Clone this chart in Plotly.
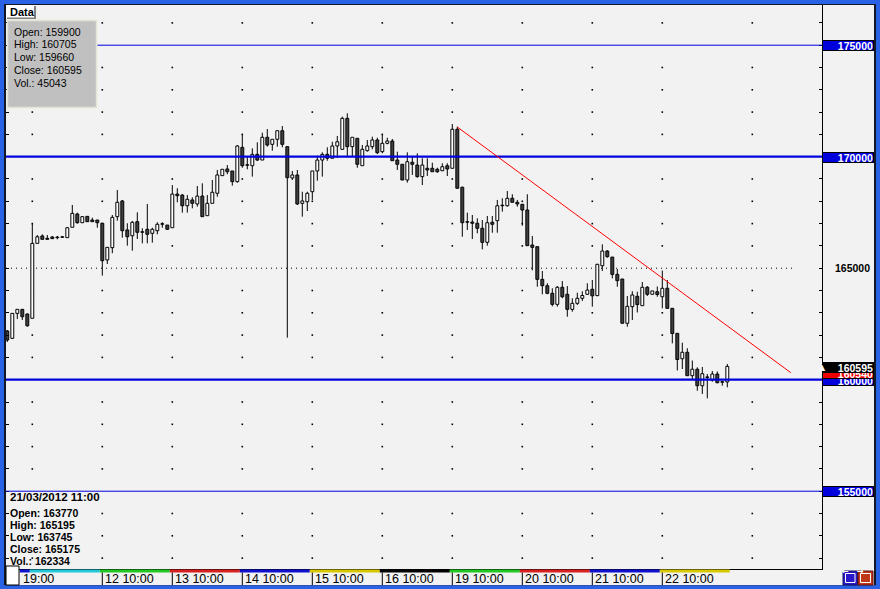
import plotly.graph_objects as go

W, H = 880, 589

# ---------------- data ----------------
opens = [162185, 161855, 162975, 163155, 162945, 162755, 166115, 166445, 166340, 166400,
         166370, 166385, 166370, 166835, 167430, 167040, 167325, 167160, 167160, 167015,
         165370, 165920, 167310, 168015, 166715, 166455, 167085, 166610, 166745, 166565,
         166680, 166970, 166935, 166815, 168325, 168280, 167800, 168060, 167880, 168235,
         167355, 167910, 168360, 169150, 169450, 169360, 168880, 170420, 169615, 169595,
         170105, 169850, 170870, 170555, 170780, 171165, 170450, 169045, 169180, 167910,
         167980, 168430, 169360, 169850, 170105, 169930, 170480, 170330, 171720, 170450,
         170825, 169595, 170270, 170450, 170750, 170225, 170600, 170705, 169850, 169660,
         168955, 169750, 169625, 169105, 169480, 169480, 169435, 169370, 169595, 169480,
         171230, 168630, 167060, 167070, 167015, 166790, 166160, 167060, 167130, 167800,
         167800, 168135, 167955, 167865, 167610, 166040, 165965, 164500, 164215, 163875,
         163380, 164145, 163830, 163155, 163425, 163650, 163830, 164055, 163770, 165110,
         165770, 165500, 164725, 164515, 162530, 163275, 163740, 163320, 164145, 163830,
         163945, 163720, 164100, 163200, 162080, 160940, 161230, 160180, 160470, 159730,
         160100, 159985, 160255, 159885, 159900]
highs = [162230, 162990, 163170, 163170, 162975, 166980, 166490, 166520, 166490, 166445,
         166445, 166445, 166845, 167835, 167490, 167340, 167340, 167265, 167160, 167025,
         165950, 167385, 168505, 168060, 167015, 167115, 167505, 166790, 167880, 166815,
         167060, 167060, 166935, 168730, 168585, 168325, 168280, 168180, 168685, 168805,
         168280, 168955, 169405, 169435, 169625, 169360, 170525, 170975, 170000, 170375,
         170645, 171075, 171240, 170780, 171165, 171375, 170450, 169360, 169405, 168430,
         168430, 169360, 170045, 170195, 170420, 170670, 170930, 171795, 171945, 170870,
         170825, 170525, 170750, 170895, 170850, 171005, 170850, 170795, 170225, 169660,
         170195, 170000, 170150, 169930, 169930, 169730, 169505, 169705, 169705, 171465,
         171345, 168655, 167490, 167385, 167235, 167160, 167340, 167340, 168060, 168135,
         168460, 168315, 168060, 167880, 168315, 166445, 165965, 164875, 164325, 164100,
         164200, 164425, 164200, 163650, 163900, 163965, 164325, 164470, 165195, 166070,
         165815, 165500, 164965, 164515, 163755, 163965, 163945, 164380, 164200, 163980,
         164180, 164895, 164470, 163200, 162080, 161660, 161410, 160860, 160555, 160570,
         160255, 160390, 160370, 159955, 160705]
lows = [161690, 161825, 162720, 162675, 162375, 162755, 166115, 166295, 166295, 166325,
        166295, 166370, 166370, 166835, 166995, 167040, 167085, 167085, 166815, 164665,
        165190, 165670, 167130, 166370, 166010, 165785, 166310, 166115, 166115, 166145,
        166520, 166815, 166715, 166815, 167955, 167490, 167490, 167685, 167760, 167310,
        167355, 167910, 168205, 169150, 169210, 168700, 168835, 169505, 169435, 169105,
        169805, 169850, 170450, 170270, 170450, 170420, 161885, 168955, 167835, 167310,
        167565, 168060, 168925, 169105, 169820, 169930, 169940, 170330, 170030, 170030,
        169505, 169595, 170225, 170330, 170120, 170150, 170555, 169820, 169405, 168955,
        168835, 169180, 169060, 168730, 169135, 169325, 169280, 169360, 169135, 169480,
        168585, 166410, 166715, 166310, 166565, 165845, 166010, 166590, 166590, 167535,
        167760, 167955, 167760, 166905, 166010, 164905, 164170, 163830, 163830, 163290,
        163275, 163650, 162825, 163050, 163350, 163530, 163800, 163275, 163745, 164875,
        165470, 164545, 164170, 162530, 162375, 162675, 163015, 163320, 163755, 163830,
        163720, 163200, 163200, 161630, 160415, 160480, 160180, 160010, 159505, 159360,
        159165, 159910, 159840, 159730, 159660]
closes = [161780, 162975, 163155, 162825, 162420, 166115, 166410, 166295, 166295, 166325,
          166370, 166400, 166815, 167460, 167040, 167310, 167085, 167085, 167040, 165335,
          165935, 167280, 167955, 166680, 166410, 167060, 166610, 166610, 166520, 166745,
          166970, 166970, 166745, 168325, 168250, 167800, 168090, 167910, 168235, 167310,
          167910, 168405, 169180, 169435, 169325, 168880, 170480, 169595, 169615, 170105,
          169850, 170870, 170525, 170780, 171165, 170555, 169060, 169180, 167880, 168015,
          168360, 169360, 169850, 170105, 169930, 170480, 170670, 171720, 170450, 170870,
          169660, 170330, 170480, 170750, 170180, 170600, 170705, 169820, 169660, 168955,
          169775, 169660, 169105, 169625, 169405, 169325, 169325, 169550, 169450, 171230,
          168585, 167040, 167060, 167015, 166790, 166160, 167040, 166970, 167800, 167800,
          168135, 167955, 167880, 167610, 166010, 165935, 164500, 164215, 163875, 163380,
          164145, 163720, 163155, 163425, 163650, 163775, 164020, 163760, 165175, 165770,
          165515, 164725, 164440, 162530, 163290, 163800, 163370, 164145, 163830, 163980,
          163820, 164100, 163200, 162070, 160905, 161230, 160180, 160470, 159730, 160270,
          160110, 160255, 159865, 159890, 160595]
idx = list(range(len(opens)))

data_box_lines = ["Open: 159900", "High: 160705", "Low: 159660", "Close: 160595", "Vol.: 45043"]
info_date = "21/03/2012 11:00"
info_lines = ["Open: 163770", "High: 165195", "Low: 163745", "Close: 165175", "Vol.: 162334"]

level_prices = [175000, 170000, 160000, 155000]
level_widths = [1, 2.2, 2.2, 1]
level_start = [18, -1, -1, -1]
dotted_level = 165000
dotted_end = 157
label_levels = [175000, 170000, 155000]
plain_label_level = 165000

trend_x = [90, 156.7]
trend_y = [171330, 160315]

grid_prices = [p for p in range(152000, 177000, 1000) if p % 5000 != 0]
grid_cols = [5, 19, 33, 47, 61, 75, 89, 103, 117, 131, 149]

time_labels = ["19:00", "12 10:00", "13 10:00", "14 10:00", "15 10:00", "16 10:00",
               "19 10:00", "20 10:00", "21 10:00", "22 10:00"]
time_idx = [2.55, 19, 33, 47, 61, 75, 89, 103, 117, 131]
day_edges = [2.5, 4.5, 18.5, 32.5, 46.5, 60.5, 74.5, 88.5, 102.5, 116.5, 130.5, 144.5]
day_colors = ["#1010D0", "#22C8D8", "#22C822", "#D82020", "#1010D0", "#D8C800",
              "#000000", "#22C822", "#D82020", "#1010D0", "#D8C800"]

current_price = closes[-1]
red_label_price = 160300
red_label_text = "160540"

X_RANGE = [-0.26, 162.94]
Y_RANGE = [151512, 176802]

# ---------------- helpers ----------------
def px(x):
    return x / W

def py(y):
    return 1 - y / H

BLUE = "#0000DD"
BG = "#F2F2F2"
FONT = "Liberation Sans"

fig = go.Figure()

# grid dots (main axes, under candles)
gx, gy = [], []
for c in grid_cols:
    for p in grid_prices:
        gx.append(c)
        gy.append(p)
fig.add_trace(go.Scatter(x=gx, y=gy, mode="markers", xaxis="x", yaxis="y",
                         marker=dict(symbol="square", size=1.6, color="#000000", line=dict(width=0)),
                         hoverinfo="skip", showlegend=False))

# wicks
wx, wy = [], []
for i, o, h, l, c in zip(idx, opens, highs, lows, closes):
    top, bot = max(o, c), min(o, c)
    if h > top:
        wx += [i, i, None]
        wy += [top, h, None]
    if l < bot:
        wx += [i, i, None]
        wy += [l, bot, None]
fig.add_trace(go.Scatter(x=wx, y=wy, mode="lines", xaxis="x2", yaxis="y2",
                         line=dict(color="#000000", width=1),
                         hoverinfo="skip", showlegend=False))

# bodies
fig.add_trace(go.Bar(
    x=idx,
    y=[max(abs(c - o), 25) for o, c in zip(opens, closes)],
    base=[min(o, c) for o, c in zip(opens, closes)],
    width=0.58, xaxis="x2", yaxis="y2",
    marker=dict(color=["#FFFFFF" if c >= o else "#404040" for o, c in zip(opens, closes)],
                line=dict(color="#000000", width=1)),
    hoverinfo="skip", showlegend=False))

shapes = []
annotations = []

# dotted 165000 line
shapes.append(dict(type="line", xref="x", yref="y", x0=X_RANGE[0], x1=dotted_end,
                   y0=dotted_level, y1=dotted_level, layer="below",
                   line=dict(color="#000000", width=1, dash="1px,4px")))

# horizontal level lines
for p, w, s in zip(level_prices, level_widths, level_start):
    shapes.append(dict(type="line", xref="x", yref="y", x0=max(s, X_RANGE[0]), x1=X_RANGE[1],
                       y0=p, y1=p, layer="above", line=dict(color=BLUE, width=w)))

# trendline
shapes.append(dict(type="line", xref="x", yref="y", x0=trend_x[0], x1=trend_x[1],
                   y0=trend_y[0], y1=trend_y[1], layer="above",
                   line=dict(color="#FF0000", width=1)))

# day colour bar and time ticks
for a, b, col in zip(day_edges[:-1], day_edges[1:], day_colors):
    shapes.append(dict(type="rect", xref="x", yref="paper", x0=a, x1=b,
                       y0=py(572.5), y1=py(569.5), fillcolor=col, line=dict(width=0), layer="above"))
for t, xi in zip(time_labels, time_idx):
    if t != "19:00":
        shapes.append(dict(type="line", xref="x", yref="paper", x0=xi, x1=xi,
                           y0=py(585), y1=py(572.5), line=dict(color="#000000", width=1)))
    annotations.append(dict(text=t, xref="x", yref="paper", x=xi + 0.2, y=py(579),
                            xanchor="left", yanchor="middle", showarrow=False,
                            font=dict(family=FONT, size=12.5, color="#000000")))

# window frame
frame_blue = "#2A62E6"
for x0, y0, x1, y1, col in [
    (0, 0, 4, H, frame_blue), (876, 0, W, H, frame_blue),
    (0, 0, W, 4, frame_blue), (0, 586, W, H, frame_blue),
    (4, 4, 6, 586, "#101828"), (4, 4, 876, 5, "#101828"),
    (874, 4, 876, 586, "#101828"), (4, 585, 876, 586, "#3050B0"),
]:
    shapes.append(dict(type="rect", xref="paper", yref="paper", x0=px(x0), x1=px(x1),
                       y0=py(y1), y1=py(y0), fillcolor=col, line=dict(width=0), layer="above"))

# data box
shapes.append(dict(type="rect", xref="paper", yref="paper", x0=px(7.5), x1=px(96.5),
                   y0=py(107.5), y1=py(20.5), fillcolor="#C0C0C0",
                   line=dict(color="#E4E4D4", width=1.5), layer="above"))
shapes.append(dict(type="rect", xref="paper", yref="paper", x0=px(7), x1=px(36),
                   y0=py(19), y1=py(6), fillcolor="#808080", line=dict(width=0), layer="above"))
shapes.append(dict(type="rect", xref="paper", yref="paper", x0=px(6), x1=px(34),
                   y0=py(17.5), y1=py(5), fillcolor="#FFFFFF", line=dict(width=0), layer="above"))
annotations.append(dict(text="<b>Data</b>", xref="paper", yref="paper", x=px(7.5), y=py(11.5),
                        xanchor="left", yanchor="middle", showarrow=False,
                        font=dict(family=FONT, size=11, color="#000000")))
for i, t in enumerate(data_box_lines):
    annotations.append(dict(text=t, xref="paper", yref="paper", x=px(12), y=py(31.7 + 12.8 * i),
                            xanchor="left", yanchor="middle", showarrow=False,
                            font=dict(family=FONT, size=10.5, color="#000000")))

# bottom info
annotations.append(dict(text="<b>" + info_date + "</b>", xref="paper", yref="paper", x=px(8),
                        y=py(497), xanchor="left", yanchor="middle", showarrow=False,
                        font=dict(family=FONT, size=11.5, color="#000000")))
for i, t in enumerate(info_lines):
    annotations.append(dict(text="<b>" + t + "</b>", xref="paper", yref="paper", x=px(8),
                            y=py(513.3 + 12 * i), xanchor="left", yanchor="middle", showarrow=False,
                            font=dict(family=FONT, size=10.5, color="#000000")))

# small white box bottom-left
shapes.append(dict(type="rect", xref="paper", yref="paper", x0=px(6), x1=px(19),
                   y0=py(585), y1=py(566), fillcolor="#FFFFFF",
                   line=dict(color="#000000", width=1), layer="above"))

# right price panel border
shapes.append(dict(type="line", xref="paper", yref="paper", x0=px(822.5), x1=px(822.5),
                   y0=py(570), y1=py(5), line=dict(color="#000000", width=1), layer="above"))

# buttons
shapes.append(dict(type="rect", xref="paper", yref="paper", x0=px(843), x1=px(857.5),
                   y0=py(585), y1=py(571), fillcolor="#2818C8",
                   line=dict(color="#101060", width=1), layer="above"))
shapes.append(dict(type="rect", xref="paper", yref="paper", x0=px(858), x1=px(873),
                   y0=py(585), y1=py(571), fillcolor="#C03818",
                   line=dict(color="#601010", width=1), layer="above"))
for bx0, bx1 in [(845.5, 855), (860.5, 870.5)]:
    shapes.append(dict(type="rect", xref="paper", yref="paper", x0=px(bx0), x1=px(bx1),
                       y0=py(582.5), y1=py(573.5), line=dict(color="#FFFFFF", width=1),
                       layer="above"))
annotations.append(dict(text="<b>←</b>", xref="paper", yref="paper", x=px(850.5), y=py(578),
                        showarrow=False, font=dict(family="DejaVu Sans", size=8, color="#FFFFFF")))
annotations.append(dict(text="<b>→</b>", xref="paper", yref="paper", x=px(865.5), y=py(578),
                        showarrow=False, font=dict(family="DejaVu Sans", size=8, color="#FFFFFF")))

# price labels
def box_label(price, text, bg, fg, yshift=0.0):
    return dict(text="<b>" + text + "</b>", xref="paper", yref="y", x=px(874), y=price,
                xanchor="right", yanchor="middle", yshift=yshift, showarrow=False, align="right",
                width=50, height=9, borderpad=0, borderwidth=1, bordercolor="#000000",
                bgcolor=bg, font=dict(family=FONT, size=10.5, color=fg))

for p in label_levels:
    annotations.append(box_label(p, str(p), BLUE, "#FFFFFF", yshift=-0.5))
annotations.append(dict(text="<b>" + str(plain_label_level) + "</b>", xref="paper", yref="y",
                        x=px(872), y=plain_label_level, xanchor="right", yanchor="middle",
                        showarrow=False, font=dict(family=FONT, size=10.5, color="#000000")))
annotations.append(box_label(160000, "160000", BLUE, "#FFFFFF", yshift=-0.5))
annotations.append(box_label(red_label_price, red_label_text, "#EE0000", "#FFFFFF"))
annotations.append(box_label(current_price, str(current_price), "#000000", "#FFFFFF", yshift=-1.5))
annotations.append(dict(text="▲", xref="paper", yref="y", x=px(828), y=current_price,
                        yshift=-1.5, showarrow=False,
                        font=dict(family="DejaVu Sans", size=8, color="#FFFFFF")))

fig.update_layout(
    width=W, height=H, autosize=False,
    margin=dict(l=0, r=0, t=0, b=0, pad=0),
    paper_bgcolor=BG, plot_bgcolor=BG,
    showlegend=False, barmode="overlay", hovermode=False,
    xaxis=dict(domain=[px(6), px(822)], range=X_RANGE, showgrid=False, zeroline=False,
               showticklabels=False, ticks="", showline=True, linecolor="#000000",
               linewidth=1, mirror=True, fixedrange=True),
    yaxis=dict(domain=[py(569), py(5)], range=Y_RANGE, showgrid=False, zeroline=False,
               showticklabels=False, ticks="inside", ticklen=3, tickcolor="#000000",
               tickwidth=1, tick0=0, dtick=1000, showline=True, linecolor="#000000",
               linewidth=1, mirror="ticks", fixedrange=True),
    xaxis2=dict(overlaying="x", range=X_RANGE, visible=False, anchor="y2", fixedrange=True),
    yaxis2=dict(overlaying="y", range=Y_RANGE, visible=False, anchor="x2", fixedrange=True),
    shapes=shapes,
    annotations=annotations,
)

fig.write_html(
    "out.html",
    config={"displayModeBar": False},
    post_script="document.body.style.margin='0px';document.body.style.overflow='hidden';",
)
